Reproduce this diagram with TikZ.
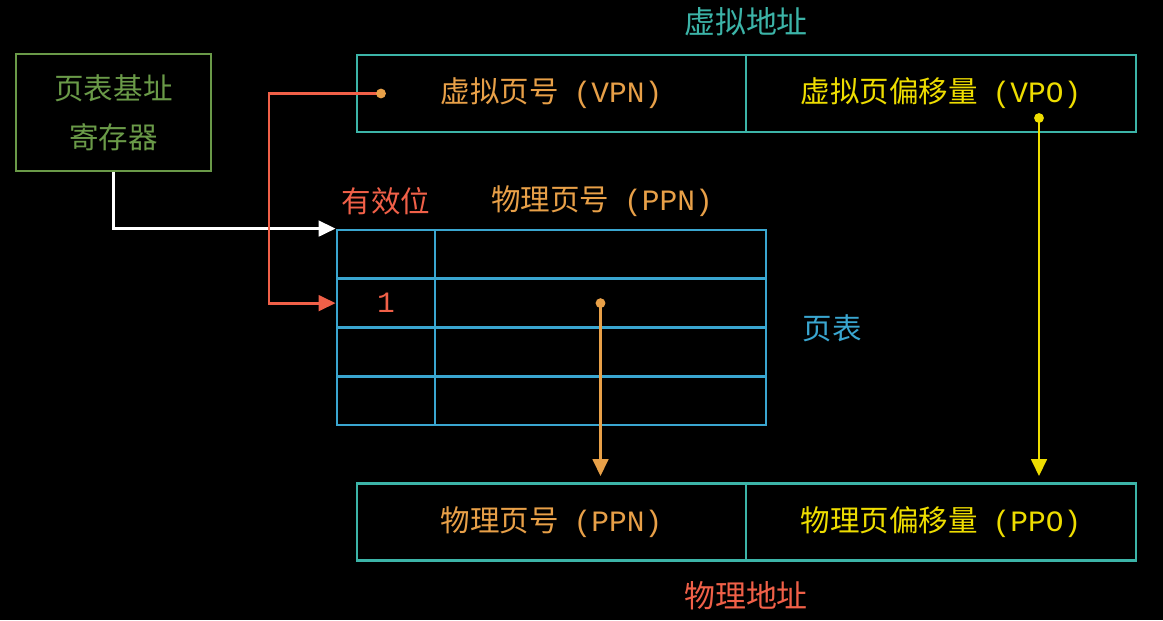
\documentclass[tikz,border=0pt]{standalone}
\usepackage{fontspec}
\setmainfont{Noto Sans CJK SC}
\setmonofont{Liberation Mono}
\usetikzlibrary{arrows.meta}

\definecolor{regGreen}{HTML}{6A9A48}
\definecolor{addrTeal}{HTML}{3CB4A8}
\definecolor{tabBlue}{HTML}{3AA6D0}
\definecolor{ppnOrange}{HTML}{E8A048}
\definecolor{offYellow}{HTML}{EEDD00}
\definecolor{validRed}{HTML}{F06048}

\tikzset{
    field/.style={draw=addrTeal, line width=2pt, minimum height=77*0.025cm, inner sep=0pt},
    cell/.style={draw=tabBlue, line width=2pt, minimum height=48.75*0.025cm, inner sep=0pt},
    label/.style={font=\fontsize{21}{25}\selectfont},
    link/.style={line width=2pt, -{Triangle[length=12pt, width=11pt]}},
    dot/.style={circle, fill, inner sep=0pt, minimum size=7pt}
}

\begin{document}
\begin{tikzpicture}[x=0.025cm, y=-0.025cm]
    % Black background, fixes the picture size
    \fill[black] (0,0) rectangle (1163,620);

    % Page table base register
    \node[draw=regGreen, line width=2pt, minimum width=195*0.025cm, minimum height=117*0.025cm,
          label, text=regGreen, align=center] (reg) at (113.5,112.5)
          {页表基址\\[10pt]寄存器};

    % Virtual address
    \node[field, minimum width=389*0.025cm, label, text=ppnOrange] (vpn) at (551.5,93.5)
          {虚拟页号\hspace{0.5em}\texttt{(VPN)}};
    \node[field, minimum width=390*0.025cm, label, text=offYellow] (vpo) at (941,93.5)
          {虚拟页偏移量\hspace{0.5em}\texttt{(VPO)}};
    \node[font=\fontsize{22}{26}\selectfont, text=addrTeal] (vtitle) at (746,22) {虚拟地址};

    % Physical address
    \node[field, minimum width=389*0.025cm, label, text=ppnOrange] (ppn) at (551.5,522)
          {物理页号\hspace{0.5em}\texttt{(PPN)}};
    \node[field, minimum width=390*0.025cm, label, text=offYellow] (ppo) at (941,522)
          {物理页偏移量\hspace{0.5em}\texttt{(PPO)}};
    \node[font=\fontsize{22}{26}\selectfont, text=validRed] (ptitle) at (746,596) {物理地址};

    % Page table rows
    \foreach \i in {1,2,3,4} {
        \node[cell, minimum width=98*0.025cm] (v\i) at (386,205.625+48.75*\i) {};
        \node[cell, minimum width=331*0.025cm] (p\i) at (600.5,205.625+48.75*\i) {};
    }
    \node[label, text=validRed] (one) at (v2) {\texttt{1}};
    \node[label, text=validRed] (vhead) at (386,201) {有效位};
    \node[label, text=ppnOrange] (phead) at (602,201) {物理页号\hspace{0.5em}\texttt{(PPN)}};
    \node[label, text=tabBlue] (ptab) at (832,328) {页表};

    % Base register points to the table
    \draw[link, white] (reg.south) |- (v1.north west);

    % VPN selects the entry
    \coordinate (vdot) at (381,93.5);
    \draw[link, validRed] (vdot) -- ++(-112,0) |- (v2.west);
    \node[dot, ppnOrange] at (vdot) {};

    % PPN copied to physical address
    \node[dot, ppnOrange] (pdot) at (p2.center) {};
    \draw[link, ppnOrange, shorten >=6*0.025cm] (pdot.center) -- (pdot.center |- ppn.north);

    % VPO copied to PPO
    \coordinate (odot) at (1039,118);
    \draw[link, offYellow, shorten >=6*0.025cm] (odot) -- (odot |- ppo.north);
    \node[dot, offYellow] at (odot) {};
\end{tikzpicture}
\end{document}
